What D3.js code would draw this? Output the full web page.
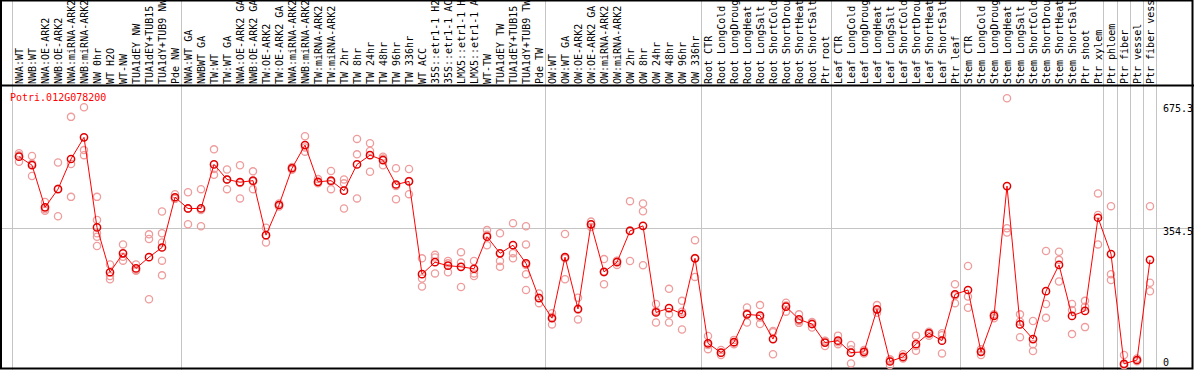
<!DOCTYPE html>
<html>
<head>
<meta charset="utf-8">
<script src="https://cdn.jsdelivr.net/npm/d3@7"></script>
<style>
  body { margin: 0; background: #fff; }
  svg { display: block; }
  text { font-family: "DejaVu Sans Mono", monospace; font-size: 10px; }
</style>
</head>
<body>
<script>
const gene = "Potri.012G078200"

const samples = [
  "NWA:WT", "NWB:WT", "NWA:OE-ARK2", "NWB:OE-ARK2", "NWA:miRNA-ARK2", "NWB:miRNA-ARK2",
  "NW 0hr", "WT H2O", "WT-NW", "TUA1dEY NW", "TUA1dEY+TUB15 NW", "TUA1dY+TUB9 NW", "Pde NW",
  "NWA:WT GA", "NWBWT GA", "TW:WT", "TW:WT GA", "NWA:OE-ARK2 GA", "NWB:OE-ARK2 GA",
  "TW:OE-ARK2", "TW:OE-ARK2 GA", "NWA:miRNA-ARK2 GA", "NWB:miRNA-ARK2 GA", "TW:miRNA-ARK2",
  "TW:miRNA-ARK2", "TW 2hr", "TW 8hr", "TW 24hr", "TW 48hr", "TW 96hr", "TW 336hr", "WT ACC",
  "35S::etr1-1 H2O", "35S::etr1-1 ACC", "LMX5::etr1-1 H2O", "LMX5::etr1-1 ACC", "WT-TW",
  "TUA1dEY TW", "TUA1dEY+TUB15 TW", "TUA1dY+TUB9 TW", "Pde TW",
  "OW:WT", "OW:WT GA", "OW:OE-ARK2", "OW:OE-ARK2 GA", "OW:miRNA-ARK2", "OW:miRNA-ARK2",
  "OW 2hr", "OW 8hr", "OW 24hr", "OW 48hr", "OW 96hr", "OW 336hr",
  "Root CTR", "Root LongCold", "Root LongDrought", "Root LongHeat", "Root LongSalt",
  "Root ShortCold", "Root ShortDrought", "Root ShortHeat", "Root ShortSalt", "Ptr root",
  "Leaf CTR", "Leaf LongCold", "Leaf LongDrought", "Leaf LongHeat", "Leaf LongSalt",
  "Leaf ShortCold", "Leaf ShortDrought", "Leaf ShortHeat", "Leaf ShortSalt", "Ptr leaf",
  "Stem CTR", "Stem LongCold", "Stem LongDrought", "Stem LongHeat", "Stem LongSalt",
  "Stem ShortCold", "Stem ShortDrought", "Stem ShortHeat", "Stem ShortSalt",
  "Ptr shoot", "Ptr xylem", "Ptr phloem", "Ptr fiber", "Ptr vessel", "Ptr fiber vessel"
]

// mean expression per sample
const means = [
  539, 517, 408, 455, 533, 589, 356, 240, 289, 250,
  279, 304, 434, 405, 405, 519, 480, 473, 477, 336,
  414, 509, 569, 474, 477, 451, 519, 543, 530, 467,
  475, 235, 266, 257, 254, 249, 332, 289, 310, 263,
  173, 121, 279, 145, 364, 241, 266, 347, 360, 136,
  147, 132, 276, 56, 32, 59, 131, 128, 67, 151,
  118, 106, 58, 63, 32, 34, 144, 9, 21, 54,
  82, 63, 183, 194, 34, 127, 463, 105, 67, 191,
  259, 127, 140, 381, 287, 3, 13, 272
]

// individual replicates
const replicates = [
  [548, 526, 543], [541, 489, 521], [422, 403, 399], [524, 385, 456], [642, 520, 435],
  [667, 556, 543], [435, 375, 341, 332, 308], [260, 230, 222], [312, 280, 270], [260, 244, 246],
  [338, 326, 170], [397, 341, 317, 270, 232], [442, 430, 430], [447, 364, 404], [455, 359, 401],
  [558, 492, 507], [506, 455, 480], [517, 431, 471], [501, 455, 475], [355, 317, 336],
  [418, 410, 414], [512, 505, 510], [592, 552, 563], [481, 470, 472], [502, 455, 474],
  [480, 470, 405], [585, 545, 431], [574, 554, 500], [539, 517, 534], [509, 429, 463],
  [507, 442, 476], [276, 224, 203], [285, 278, 237], [269, 263, 240], [292, 265, 202],
  [269, 237, 230], [349, 310, 337], [341, 269, 254], [367, 289, 276], [359, 312, 259, 235, 194],
  [185, 160, 174], [134, 105, 124], [339, 222, 276], [174, 118, 143], [371, 364, 357],
  [274, 209, 240], [269, 259, 270], [424, 269, 348], [418, 398, 258], [158, 110, 140],
  [197, 131, 110], [166, 92, 138], [323, 228, 277], [75, 41, 52], [39, 26, 31],
  [65, 54, 58], [149, 110, 134], [155, 106, 123], [88, 28, 85], [161, 138, 154],
  [131, 109, 114], [97, 110, 111], [62, 49, 63], [76, 54, 59], [52, 4, 40],
  [39, 30, 33], [155, 135, 142], [15, 0, 12], [28, 17, 18], [76, 37, 49],
  [86, 76, 84], [82, 30, 77], [209, 160, 180], [256, 148, 177], [41, 26, 35],
  [131, 121, 129], [690, 354, 343], [131, 72, 112], [114, 54, 36], [295, 158, 122],
  [293, 272, 216], [158, 142, 80], [166, 151, 98], [444, 388, 312], [411, 235, 220],
  [26, 0, 0], [17, 10, 12], [411, 213, 191]
]

// group separators drawn after these sample indices
const separators = [-1, 12, 40, 52, 62, 72, 83, 84, 85, 86, 87]
const yTicks = [0, 354.5, 675.3]

const w = 1194
const h = 370

const svg = d3.select("body")
  .append("svg")
  .attr("width", w)
  .attr("height", h)

const x = d3.scaleLinear().domain([0, samples.length - 1]).range([19, 1150])
const y = d3.scaleLinear().domain([0, 675.3]).range([365, 104])

// vertical separators
svg.append("g")
  .selectAll("line")
  .data(separators)
  .enter()
  .append("line")
  .attr("x1", d => Math.round(x(d) + 5.5) + 0.5)
  .attr("x2", d => Math.round(x(d) + 5.5) + 0.5)
  .attr("y1", 0)
  .attr("y2", h)
  .attr("stroke", "#c4c4c4")

// horizontal grid at middle tick
svg.append("line")
  .attr("x1", 0)
  .attr("x2", w)
  .attr("y1", Math.round(y(354.5)) + 0.5)
  .attr("y2", Math.round(y(354.5)) + 0.5)
  .attr("stroke", "#c4c4c4")

// sample labels, rotated
svg.append("g")
  .selectAll("text")
  .data(samples)
  .enter()
  .append("text")
  .attr("transform", (d, i) => `translate(${x(i)}, 84) rotate(-90)`)
  .attr("dominant-baseline", "central")
  .attr("fill", "#000")
  .text(d => d)

// frame
svg.append("rect")
  .attr("x", 1)
  .attr("y", 0.5)
  .attr("width", w - 2.5)
  .attr("height", 368)
  .attr("fill", "none")
  .attr("stroke", "#000")
  .attr("stroke-width", 2)

svg.append("line")
  .attr("x1", 0)
  .attr("x2", w)
  .attr("y1", 85.5)
  .attr("y2", 85.5)
  .attr("stroke", "#000")
  .attr("stroke-width", 2)

// y labels on the right
svg.append("g")
  .selectAll("text")
  .data(yTicks)
  .enter()
  .append("text")
  .attr("x", 1163)
  .attr("y", d => Math.min(y(d) + 4, 362))
  .attr("dominant-baseline", "central")
  .attr("fill", "#000")
  .text(d => d)

// replicate points
const reps = []
replicates.forEach((r, i) => r.forEach(v => reps.push({ i, v })))

svg.append("g")
  .selectAll("circle")
  .data(reps)
  .enter()
  .append("circle")
  .attr("cx", d => x(d.i))
  .attr("cy", d => y(d.v))
  .attr("r", 3.6)
  .attr("fill", "none")
  .attr("stroke", "#ee9c9c")
  .attr("stroke-width", 1.3)

// mean line
const line = d3.line()
  .x((d, i) => x(i))
  .y(d => y(d))

svg.append("path")
  .datum(means)
  .attr("d", line)
  .attr("fill", "none")
  .attr("stroke", "#ff0000")
  .attr("stroke-width", 1)

svg.append("g")
  .selectAll("circle")
  .data(means)
  .enter()
  .append("circle")
  .attr("cx", (d, i) => x(i))
  .attr("cy", d => y(d))
  .attr("r", 3.6)
  .attr("fill", "none")
  .attr("stroke", "#e00000")
  .attr("stroke-width", 1.5)

// gene name
svg.append("text")
  .attr("x", 10)
  .attr("y", 101)
  .attr("fill", "#ff0000")
  .text(gene)
</script>
</body>
</html>
